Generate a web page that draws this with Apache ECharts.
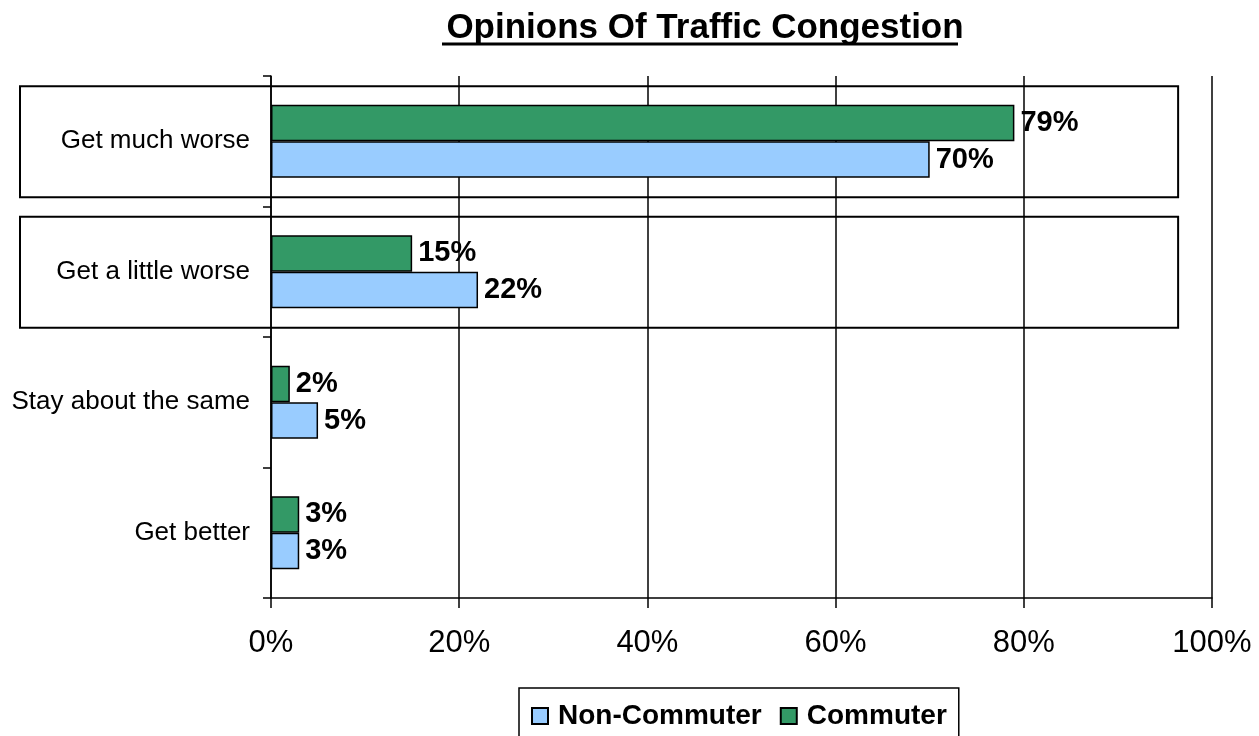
<!DOCTYPE html>
<html>
<head>
<meta charset="utf-8">
<script src="https://cdn.jsdelivr.net/npm/echarts@6/dist/echarts.min.js"></script>
<style>
  html, body { margin: 0; padding: 0; background: #fff; }
  #chart { width: 1259px; height: 736px; }
</style>
</head>
<body>
<div id="chart"></div>
<script>
// 数据
const categories = ['Get much worse', 'Get a little worse', 'Stay about the same', 'Get better'];
const nonCommuter = [70, 22, 5, 3];
const commuter = [79, 15, 2, 3];
const xTicks = [0, 20, 40, 60, 80, 100];
// categories that get a frame drawn around them
const boxedCategories = ['Get much worse', 'Get a little worse'];
const boxRightValue = 96.4;

const font = '"Liberation Sans", Arial, sans-serif';

const chart = echarts.init(document.getElementById('chart'));

const labelStyle = {
    show: true,
    position: 'right',
    distance: 6,
    formatter: '{c}%',
    color: '#000',
    fontWeight: 'bold',
    fontSize: 29,
    fontFamily: font
};

const option = {
    animation: false,
    title: {
        text: 'Opinions Of Traffic Congestion',
        left: 700,
        top: 6,
        textAlign: 'center',
        textStyle: {
            color: '#000',
            fontWeight: 'bold',
            fontSize: 35,
            fontFamily: font
        }
    },
    legend: {
        data: ['Non-Commuter', 'Commuter'],
        left: 519,
        top: 688,
        padding: [14, 12, 16, 12],
        borderColor: '#000',
        borderWidth: 1.5,
        itemWidth: 16,
        itemHeight: 16,
        itemGap: 18,
        icon: 'rect',
        textStyle: {
            color: '#000',
            fontWeight: 'bold',
            fontSize: 28,
            fontFamily: font,
            padding: [0, 0, 0, 5]
        }
    },
    grid: {
        left: 271,
        right: 47,
        top: 76,
        bottom: 138
    },
    xAxis: {
        type: 'value',
        min: xTicks[0],
        max: xTicks[xTicks.length - 1],
        interval: 20,
        axisLine: { show: true, lineStyle: { color: '#000', width: 1.5 } },
        axisTick: { show: true, length: 10, lineStyle: { color: '#000', width: 1.5 } },
        splitLine: { show: true, lineStyle: { color: '#000', width: 1.5 } },
        axisLabel: {
            formatter: '{value}%',
            color: '#000',
            fontSize: 31,
            fontFamily: font,
            margin: 30
        }
    },
    yAxis: {
        type: 'category',
        data: categories,
        inverse: true,
        axisLine: { show: true, lineStyle: { color: '#000', width: 1.5 } },
        axisTick: { show: true, length: 8, lineStyle: { color: '#000', width: 1.5 } },
        axisLabel: {
            color: '#000',
            fontSize: 26,
            fontFamily: font,
            margin: 21
        }
    },
    series: [
        {
            name: 'Commuter',
            type: 'bar',
            data: commuter,
            barGap: '0%',
            barCategoryGap: '44%',
            itemStyle: { color: '#339966', borderColor: '#000', borderWidth: 1.5 },
            label: labelStyle
        },
        {
            name: 'Non-Commuter',
            type: 'bar',
            data: nonCommuter,
            barGap: '0%',
            barCategoryGap: '44%',
            itemStyle: { color: '#99CCFF', borderColor: '#000', borderWidth: 1.5 },
            label: labelStyle
        }
    ]
};

chart.setOption(option);

// 边框和标题下划线
const rightX = chart.convertToPixel({ xAxisIndex: 0 }, boxRightValue);
const boxes = boxedCategories.map(function (c) {
    const cy = chart.convertToPixel({ yAxisIndex: 0 }, c);
    return {
        type: 'rect',
        shape: { x: 20, y: cy - 55, width: rightX - 20, height: 111 },
        style: { fill: 'none', stroke: '#000', lineWidth: 2 },
        z: 1
    };
});
boxes.push({
    type: 'line',
    shape: { x1: 442, y1: 44, x2: 958, y2: 44 },
    style: { stroke: '#000', lineWidth: 3 }
});
chart.setOption({ graphic: boxes });
</script>
</body>
</html>
